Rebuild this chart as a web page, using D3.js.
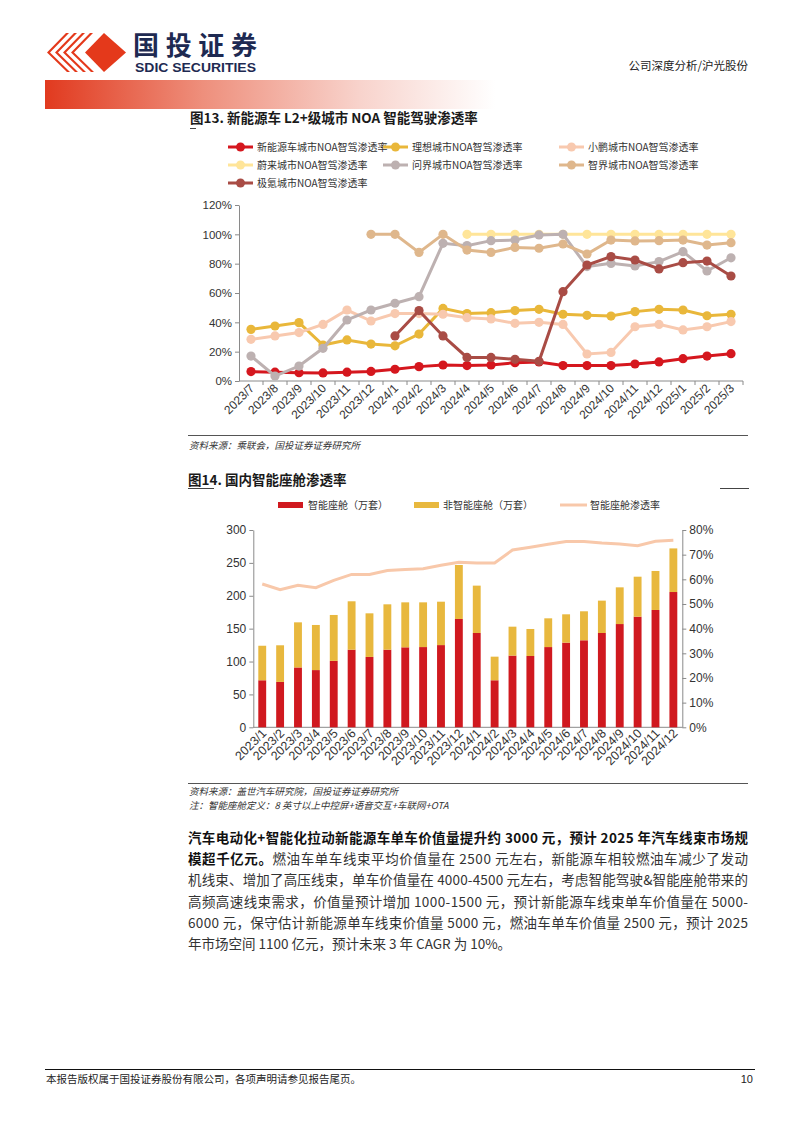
<!DOCTYPE html>
<html>
<head>
<meta charset="utf-8">
<script src="https://cdn.jsdelivr.net/npm/d3@7"></script>
<style>
  body { margin: 0; background: #fff; }
  svg { display: block; font-family: "Liberation Sans", "Noto Sans CJK SC", sans-serif; }
  .cn { font-family: "Noto Sans CJK SC", sans-serif; }
</style>
</head>
<body>
<svg id="page" width="794" height="1123"></svg>
<script>
// ---- chart 1 data: L2+ city NOA penetration (%)
var months1 = ["2023/7","2023/8","2023/9","2023/10","2023/11","2023/12",
  "2024/1","2024/2","2024/3","2024/4","2024/5","2024/6","2024/7","2024/8",
  "2024/9","2024/10","2024/11","2024/12","2025/1","2025/2","2025/3"];
var nev_noa   = [6.4,6.0,5.7,5.5,6.0,6.5,8.0,9.8,10.9,10.5,10.9,12.5,13.0,10.5,10.5,10.5,11.6,13.0,15.2,17.0,18.6];
var lixiang   = [35.2,37.5,39.8,24.5,28,25.2,24,32,49.5,46,46.6,48,48.9,45.5,44.8,44.3,47.3,48.9,48.4,44.5,45.5];
var xpeng     = [28.4,30.7,33,38.6,48.4,40.9,46,46,45.5,43.2,42.3,39.3,40,38.6,18.4,19.5,37,38.6,34.8,37,40.5];
var nio       = [null,null,null,null,null,null,null,null,null,100,100,100,100,100,100,100,100,100,100,100,100];
var wenjie    = [17,3.4,10.2,22.3,41.6,48.4,53,57.5,93.9,92.3,95.7,96.1,99.6,100,78,80.2,78.4,81.4,88.2,75,84];
var zhijie    = [null,null,null,null,null,100,100,87.7,100,89.3,87.7,91.1,90.5,93.4,86.6,96.1,95.5,95.7,96.1,92.7,94.3];
var zeekr     = [null,null,null,null,null,null,30.7,48,30.7,16.1,16.1,14.8,13.4,60.9,79.1,84.8,82.5,76.4,80.7,81.8,71.6];
var names1 = ["新能源车城市NOA智驾渗透率","理想城市NOA智驾渗透率","小鹏城市NOA智驾渗透率",
  "蔚来城市NOA智驾渗透率","问界城市NOA智驾渗透率","智界城市NOA智驾渗透率","极氪城市NOA智驾渗透率"];
var colors1 = ["#D5171E","#E9B73A","#F8C9AF","#FFE599","#BDB1B1","#DFB78C","#A94C45"];
var yTicks1 = [0,20,40,60,80,100,120];

// ---- chart 2 data: smart cockpit (10k sets) and penetration (%)
var months2 = ["2023/1","2023/2","2023/3","2023/4","2023/5","2023/6","2023/7","2023/8",
  "2023/9","2023/10","2023/11","2023/12","2024/1","2024/2","2024/3","2024/4","2024/5",
  "2024/6","2024/7","2024/8","2024/9","2024/10","2024/11","2024/12"];
var smart    = [71.5,69,91,87,101,118,107,118,121.6,122,125,164.7,143.4,71.5,109,108.4,122,128.7,132.3,143.4,157,168.2,178.4,205.7];
var nonSmart = [52.5,55.7,68.6,68.6,69.8,73.6,66.3,69,68.4,68,66,82.1,72,35.9,44,41.1,43.7,43.1,44.1,49.2,55.8,60.8,59.3,66.3];
var rate     = [58.1,55.8,57.6,56.6,59.6,62,62,63.6,64,64.3,65.7,66.9,66.6,66.6,71.9,73,74.2,75.3,75.3,74.7,74.3,73.6,75.4,75.8];
var yTicks2L = [0,50,100,150,200,250,300];
var yTicks2R = [0,10,20,30,40,50,60,70,80];

var svg = d3.select("#page");

// ---------- header
var defs = svg.append("defs");
var grad = defs.append("linearGradient").attr("id", "hdr");
grad.append("stop").attr("offset", "0").attr("stop-color", "#E13A1F");
grad.append("stop").attr("offset", "0.35").attr("stop-color", "#EE8F7C");
grad.append("stop").attr("offset", "0.7").attr("stop-color", "#F8D3CC");
grad.append("stop").attr("offset", "1").attr("stop-color", "#ffffff");
svg.append("rect").attr("x", 45).attr("y", 80).attr("width", 450).attr("height", 29).attr("fill", "url(#hdr)");

// logo: stripes + diamond
var logo = svg.append("g").attr("fill", "#E4391B");
logo.append("path").attr("d", "M104,33 L126,52.5 L104,72 L85,52.5 Z");
[0,1,2,3].forEach(function(i) {
  var x0 = 47 + i * 8;
  logo.append("path").attr("d",
    "M" + (x0 + 19) + ",33 L" + (x0 + 22) + ",33 L" + (x0 + 22 - 19) + ",52.5 L" + (x0 + 22 + 1) + ",72 L" + (x0 + 20) + ",72 L" + (x0) + ",52.5 Z");
});
svg.append("text").attr("class", "cn").attr("x", 133).attr("y", 55)
  .attr("font-size", 26).attr("font-weight", "bold").attr("fill", "#1E2A52")
  .attr("textLength", 124).text("国投证券");
svg.append("text").attr("x", 135).attr("y", 72)
  .attr("font-size", 12.5).attr("font-weight", "bold").attr("fill", "#1E2A52")
  .attr("textLength", 121).attr("lengthAdjust", "spacingAndGlyphs").text("SDIC SECURITIES");
svg.append("text").attr("class", "cn").attr("x", 748).attr("y", 70)
  .attr("text-anchor", "end").attr("font-size", 11.5).attr("fill", "#222").text("公司深度分析/沪光股份");

// ---------- chart 1
svg.append("text").attr("class", "cn").attr("x", 190).attr("y", 123)
  .attr("font-size", 13.5).attr("font-weight", "bold").attr("fill", "#1a1a1a")
  .text("图13. 新能源车 L2+级城市 NOA 智能驾驶渗透率");
svg.append("line").attr("x1", 190).attr("x2", 196).attr("y1", 128.5).attr("y2", 128.5).attr("stroke", "#444");

var series1 = [nev_noa, lixiang, xpeng, nio, wenjie, zhijie, zeekr];

// legend
var legPos = [[228,147],[383,147],[559,147],[228,165],[383,165],[559,165],[228,183]];
series1.forEach(function(s, i) {
  var g = svg.append("g").attr("transform", "translate(" + legPos[i][0] + "," + legPos[i][1] + ")");
  g.append("line").attr("x1", 0).attr("x2", 25).attr("stroke", colors1[i]).attr("stroke-width", 3);
  g.append("circle").attr("cx", 12.5).attr("r", 4.5).attr("fill", colors1[i]);
  g.append("text").attr("class", "cn").attr("x", 29).attr("y", 3.8).attr("font-size", 10)
    .attr("fill", "#333").text(names1[i]);
});

var x1 = d3.scaleBand().domain(months1).range([239, 743]);
var y1 = d3.scaleLinear().domain([0, 120]).range([381, 205]);

var yAx1 = svg.append("g").attr("transform", "translate(239,0)")
  .call(d3.axisLeft(y1).tickValues(yTicks1).tickSize(4).tickSizeOuter(0).tickFormat(function(d) { return d + "%"; }));
yAx1.selectAll("text").attr("font-size", 11.5).attr("fill", "#333").attr("font-family", "Liberation Sans");
yAx1.selectAll("line, path").attr("stroke", "#8a8a8a");

var xAx1 = svg.append("g").attr("transform", "translate(0,381)");
xAx1.append("line").attr("x1", 239).attr("x2", 743).attr("stroke", "#8a8a8a");
xAx1.selectAll("line.tk").data(months1).enter().append("line").attr("class", "tk")
  .attr("x1", function(d) { return x1(d) + x1.step(); })
  .attr("x2", function(d) { return x1(d) + x1.step(); })
  .attr("y1", 0).attr("y2", 4).attr("stroke", "#8a8a8a");
xAx1.selectAll("text").data(months1).enter().append("text")
  .attr("transform", function(d) { return "translate(" + (x1(d) + x1.bandwidth() / 2 + 4) + ",8) rotate(-45)"; })
  .attr("text-anchor", "end").attr("font-size", 12).attr("fill", "#333").text(function(d) { return d; });

var line1 = d3.line()
  .defined(function(d) { return d != null; })
  .x(function(d, i) { return x1(months1[i]) + x1.bandwidth() / 2; })
  .y(function(d) { return y1(d); });

series1.forEach(function(s, i) {
  var g = svg.append("g");
  g.append("path").datum(s).attr("d", line1).attr("fill", "none")
    .attr("stroke", colors1[i]).attr("stroke-width", 3);
  g.selectAll("circle").data(s.map(function(v, j) { return {v: v, m: months1[j]}; }).filter(function(d) { return d.v != null; }))
    .enter().append("circle")
    .attr("cx", function(d) { return x1(d.m) + x1.bandwidth() / 2; })
    .attr("cy", function(d) { return y1(d.v); })
    .attr("r", 4.6).attr("fill", colors1[i]);
});

svg.append("line").attr("x1", 188).attr("x2", 748).attr("y1", 435.5).attr("y2", 435.5).attr("stroke", "#555");
svg.append("text").attr("class", "cn").attr("x", 189).attr("y", 449).attr("font-size", 9.5)
  .attr("font-style", "italic").attr("fill", "#333").text("资料来源：乘联会，国投证券证券研究所");

// ---------- chart 2
svg.append("text").attr("class", "cn").attr("x", 188).attr("y", 485)
  .attr("font-size", 13.5).attr("font-weight", "bold").attr("fill", "#1a1a1a")
  .text("图14. 国内智能座舱渗透率");
svg.append("line").attr("x1", 188).attr("x2", 214).attr("y1", 488.5).attr("y2", 488.5).attr("stroke", "#444");
svg.append("line").attr("x1", 720).attr("x2", 749).attr("y1", 488.5).attr("y2", 488.5).attr("stroke", "#444");

var leg2 = svg.append("g").attr("class", "cn").attr("font-size", 10).attr("fill", "#333");
leg2.append("rect").attr("x", 278).attr("y", 502).attr("width", 25).attr("height", 6).attr("fill", "#D0191F");
leg2.append("text").attr("x", 308).attr("y", 509).text("智能座舱（万套）");
leg2.append("rect").attr("x", 414).attr("y", 502).attr("width", 25).attr("height", 6).attr("fill", "#E8B83E");
leg2.append("text").attr("x", 443).attr("y", 509).text("非智能座舱（万套）");
leg2.append("line").attr("x1", 560).attr("x2", 587).attr("y1", 505).attr("y2", 505).attr("stroke", "#F8C8AA").attr("stroke-width", 3);
leg2.append("text").attr("x", 590).attr("y", 509).text("智能座舱渗透率");

var x2 = d3.scaleBand().domain(months2).range([253.3, 682.3]).paddingInner(0.56).paddingOuter(0.28);
var y2 = d3.scaleLinear().domain([0, 300]).range([727.3, 530]);
var y2r = d3.scaleLinear().domain([0, 80]).range([727.3, 530]);

var yAx2 = svg.append("g").attr("transform", "translate(253.3,0)")
  .call(d3.axisLeft(y2).tickValues(yTicks2L).tickSize(4).tickSizeOuter(0));
yAx2.selectAll("text").attr("font-size", 12).attr("fill", "#333").attr("font-family", "Liberation Sans");
yAx2.selectAll("line, path").attr("stroke", "#8a8a8a");
var yAx2r = svg.append("g").attr("transform", "translate(682.3,0)")
  .call(d3.axisRight(y2r).tickValues(yTicks2R).tickSize(4).tickSizeOuter(0).tickFormat(function(d) { return d + "%"; }));
yAx2r.selectAll("text").attr("font-size", 12).attr("fill", "#333").attr("font-family", "Liberation Sans");
yAx2r.selectAll("line, path").attr("stroke", "#8a8a8a");

svg.append("line").attr("x1", 253.3).attr("x2", 682.3).attr("y1", 727.3).attr("y2", 727.3).attr("stroke", "#8a8a8a");

var bars = svg.append("g");
bars.selectAll("rect.s").data(months2).enter().append("rect").attr("class", "s")
  .attr("x", function(d) { return x2(d); }).attr("width", x2.bandwidth())
  .attr("y", function(d, i) { return y2(smart[i]); })
  .attr("height", function(d, i) { return y2(0) - y2(smart[i]); })
  .attr("fill", "#D0191F");
bars.selectAll("rect.n").data(months2).enter().append("rect").attr("class", "n")
  .attr("x", function(d) { return x2(d); }).attr("width", x2.bandwidth())
  .attr("y", function(d, i) { return y2(smart[i] + nonSmart[i]); })
  .attr("height", function(d, i) { return y2(smart[i]) - y2(smart[i] + nonSmart[i]); })
  .attr("fill", "#E8B83E");

var line2 = d3.line()
  .x(function(d, i) { return x2(months2[i]) + x2.bandwidth() / 2; })
  .y(function(d) { return y2r(d); });
svg.append("path").datum(rate).attr("d", line2).attr("fill", "none")
  .attr("stroke", "#F8C8AA").attr("stroke-width", 3);

svg.append("g").selectAll("text").data(months2).enter().append("text")
  .attr("transform", function(d) { return "translate(" + (x2(d) + x2.bandwidth() / 2 + 5) + ",734) rotate(-45)"; })
  .attr("text-anchor", "end").attr("font-size", 12.5).attr("fill", "#333").text(function(d) { return d; });

svg.append("line").attr("x1", 188).attr("x2", 748).attr("y1", 783.5).attr("y2", 783.5).attr("stroke", "#555");
svg.append("text").attr("class", "cn").attr("x", 189).attr("y", 795).attr("font-size", 9.5)
  .attr("font-style", "italic").attr("fill", "#333").text("资料来源：盖世汽车研究院，国投证券证券研究所");
svg.append("text").attr("class", "cn").attr("x", 189).attr("y", 809).attr("font-size", 9.5)
  .attr("font-style", "italic").attr("fill", "#333").text("注：智能座舱定义：8 英寸以上中控屏+语音交互+车联网+OTA");

// ---------- paragraph
var para = [
  [["b", "汽车电动化+智能化拉动新能源车单车价值量提升约 3000 元，预计 2025 年汽车线束市场规"]],
  [["b", "模超千亿元。"], ["n", "燃油车单车线束平均价值量在 2500 元左右，新能源车相较燃油车减少了发动"]],
  [["n", "机线束、增加了高压线束，单车价值量在 4000-4500 元左右，考虑智能驾驶&智能座舱带来的"]],
  [["n", "高频高速线束需求，价值量预计增加 1000-1500 元，预计新能源车线束单车价值量在 5000-"]],
  [["n", "6000 元，保守估计新能源单车线束价值量 5000 元，燃油车单车价值量 2500 元，预计 2025"]],
  [["n", "年市场空间 1100 亿元，预计未来 3 年 CAGR 为 10%。"]]
];
para.forEach(function(parts, i) {
  var t = svg.append("text").attr("class", "cn").attr("x", 188).attr("y", 843 + i * 21.2)
    .attr("font-size", 13.5);
  if (i < para.length - 1) t.attr("textLength", 560).attr("lengthAdjust", "spacing");
  parts.forEach(function(p) {
    t.append("tspan").attr("font-weight", p[0] == "b" ? "bold" : "normal")
      .attr("fill", p[0] == "b" ? "#111" : "#333").text(p[1]);
  });
});

// ---------- footer
svg.append("line").attr("x1", 45).attr("x2", 755).attr("y1", 1069.5).attr("y2", 1069.5).attr("stroke", "#111");
svg.append("text").attr("class", "cn").attr("x", 46).attr("y", 1083).attr("font-size", 10.5)
  .attr("fill", "#222").text("本报告版权属于国投证券股份有限公司，各项声明请参见报告尾页。");
svg.append("text").attr("x", 753).attr("y", 1083).attr("text-anchor", "end").attr("font-size", 11)
  .attr("fill", "#222").text("10");
</script>
</body>
</html>
